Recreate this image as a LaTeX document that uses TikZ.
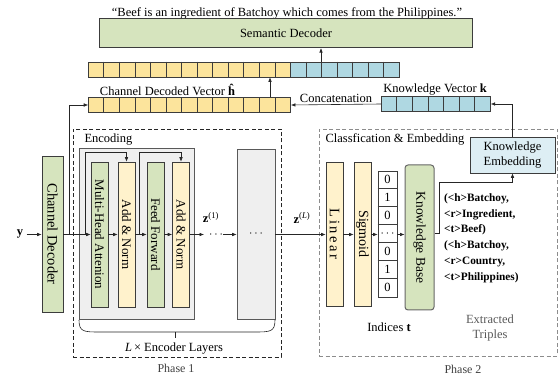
\documentclass[tikz,border=0pt]{standalone}
\usepackage{fontspec}
\setmainfont{Liberation Serif}
\usetikzlibrary{arrows.meta,calc}
\definecolor{greenfill}{HTML}{D6E4BE}
\definecolor{yelcell}{HTML}{FCE49C}
\definecolor{yelbox}{HTML}{FFF2CC}
\definecolor{bluecell}{HTML}{AFD8E2}
\definecolor{bluebox}{HTML}{DDEEF4}
\definecolor{grayfill}{HTML}{EFEFEF}
\definecolor{edge}{HTML}{3C3C3C}
\begin{document}
\begin{tikzpicture}[x=1pt,y=-1pt,
  font=\fontsize{12.5}{15}\selectfont,
  arr/.style={-{Latex[length=4.5pt,width=3.6pt]}, line width=0.6pt, draw=black!85},
  ln/.style={line width=0.6pt, draw=black!85},
  blk/.style={draw=edge, line width=0.6pt, inner sep=0pt},
  vbox/.style={blk, minimum width=17pt, minimum height=145pt},
  vec/.style={blk, minimum height=15pt},
  vtext/.style={rotate=-90, inner sep=0pt},
  cellln/.style={draw=edge, line width=0.6pt},
  phase/.style={line width=0.7pt, dash pattern=on 4pt off 2.5pt},
  smalllbl/.style={font=\fontsize{12}{14}\selectfont, text=black!75}]
\useasboundingbox (0,0) rectangle (558,379);

% ---------- decoder output ----------
\node (quote) at (287,13) {“Beef is an ingredient of Batchoy which comes from the Philippines.”};
\node[blk, fill=greenfill, minimum width=373pt, minimum height=29.5pt] (sd) at (286,33) {Semantic Decoder};

% concatenated vector
\node[vec, fill=yelcell, minimum width=202.15pt] (cvecA) at (189.6,69.5) {};
\node[vec, fill=bluecell, minimum width=108.85pt] (cvecB) at (345.1,69.5) {};
\foreach \i in {1,...,12}
  \draw[cellln] ($(cvecA.north west)+(\i*15.55,0)$) -- ($(cvecA.south west)+(\i*15.55,0)$);
\foreach \i in {1,...,6}
  \draw[cellln] ($(cvecB.north west)+(\i*15.55,0)$) -- ($(cvecB.south west)+(\i*15.55,0)$);

% channel decoded vector and knowledge vector
\node[vec, fill=yelcell, minimum width=202.15pt] (hvec) at (189.6,105) {};
\foreach \i in {1,...,12}
  \draw[cellln] ($(hvec.north west)+(\i*15.55,0)$) -- ($(hvec.south west)+(\i*15.55,0)$);
\node[vec, fill=bluecell, minimum width=108.85pt] (kvec) at (435.9,104) {};
\foreach \i in {1,...,6}
  \draw[cellln] ($(kvec.north west)+(\i*15.55,0)$) -- ($(kvec.south west)+(\i*15.55,0)$);

\node (hlbl) at (167.5,90) {Channel Decoded Vector \textbf{ĥ}};
\node (klbl) at (435,89.5) {Knowledge Vector \textbf{k}};

\coordinate (up1) at (270,0);
\coordinate (up2) at (321,0);
\draw[arr] (hvec.north -| up1) -- (cvecA.south -| up1);
\draw[arr] (cvecB.north -| up2) -- (sd.south -| up2);
\draw[arr] (kvec.west) -- (hvec.east) node[midway, above, inner sep=1.5pt] (concat) {Concatenation};

% ---------- phase frames ----------
\node[phase, draw=black!85, minimum width=208pt, minimum height=228pt, inner sep=0pt] (ph1) at (177,243) {};
\node[phase, draw=black!45, minimum width=238pt, minimum height=227pt, inner sep=0pt] (ph2) at (438,242.5) {};
\node[smalllbl] (ph1l) at (176,368) {Phase 1};
\node[smalllbl] (ph2l) at (463,369) {Phase 2};

% ---------- phase 1 ----------
\node (ylab) at (20,234) {\textbf{y}};
\node[blk, fill=greenfill, minimum width=21pt, minimum height=156pt] (cd) at (52.5,234) {};
\node[vtext, font=\fontsize{14.5}{14}\selectfont] (cdT) at (cd) {Channel Decoder};

\node[blk, draw=black!65, fill=grayfill, minimum width=115pt, minimum height=171pt] (enc) at (136.5,233.5) {};
\node[anchor=west] (encl) at (81,140) {Encoding};
\node[vbox, fill=greenfill] (mha) at (99.5,234.5) {};
\node[vbox, fill=yelbox] (an1) at (126.5,234.5) {};
\node[vbox, fill=greenfill] (ff) at (155.5,234.5) {};
\node[vbox, fill=yelbox] (an2) at (181,234.5) {};
\node[vtext, font=\fontsize{13}{13}\selectfont] (mhaT) at (mha) {Multi-Head Attenion};
\node[vtext, font=\fontsize{13}{13}\selectfont] (an1T) at (an1) {Add \& Norm};
\node[vtext, font=\fontsize{13}{13}\selectfont] (ffT) at (ff) {Feed Forward};
\node[vtext, font=\fontsize{13}{13}\selectfont] (an2T) at (an2) {Add \& Norm};

\node[blk, draw=black!65, fill=grayfill, minimum width=38pt, minimum height=170pt] (box2) at (256,234) {};
\node (box2T) at (box2) {$\cdots$};

\coordinate (fl) at (0,234.5);
\draw[arr] (ylab.east |- fl) -- (cd.west |- fl);
\draw[arr] (cd.east |- fl) -- (mha.west |- fl);
\coordinate (br) at (69,234.5);
\draw[arr] (br) |- (hvec.west);
\draw[arr] (mha.east |- fl) -- (an1.west |- fl);
\draw[arr] (an1.east |- fl) -- (ff.west |- fl);
\draw[arr] (ff.east |- fl) -- (an2.west |- fl);
\coordinate (s1) at (85,234.5);
\coordinate (s2) at (139,234.5);
\draw[arr] (s1) -- ++(0,-82.5) -| (an1.north);
\draw[arr] (s2) -- ++(0,-82.5) -| (an2.north);

\coordinate (d1) at (204,234.5);
\draw[arr] (an2.east |- fl) -- (d1);
\node[inner sep=0pt] (dts) at (216,235) {$\cdots$};
\draw[arr] (dts.east |- fl) -- (box2.west |- fl);
\node[inner sep=1pt] (z1) at (211,217.5) {\textbf{z}\textsuperscript{(1)}};

% brace under the encoder layers
\coordinate (brL) at (79,320);
\coordinate (brR) at (275,320);
\coordinate (brM) at (175,332);
\draw[ln] (brL) .. controls (79,332) and (84,332) .. (100,332) -- (254,332)
  .. controls (270,332) and (275,332) .. (brR);
\draw[ln] (brM) -- ++(0,6);
\node (layers) at (174,349) {\textit{L}\,× Encoder Layers};

% ---------- phase 2 ----------
\node[anchor=west] (p2l) at (322,139) {Classfication \& Embedding};
\node[blk, fill=bluebox, minimum width=85pt, minimum height=36pt, align=center,
      font=\fontsize{12.5}{14.5}\selectfont] (ke) at (512.5,155) {Knowledge\\Embedding};

\node[blk, fill=yelbox, minimum width=17pt, minimum height=144pt] (lin) at (334.5,234) {};
\node[blk, fill=yelbox, minimum width=17pt, minimum height=144pt] (sig) at (362.5,234) {};
\node[vtext, font=\fontsize{14.5}{14}\selectfont\addfontfeature{LetterSpace=18}] (linT) at (lin) {Linear};
\node[vtext, font=\fontsize{14}{14}\selectfont] (sigT) at (sig) {Sigmoid};

\node[blk, fill=white, minimum width=19pt, minimum height=126pt] (idx) at (387.5,234) {};
\foreach \i in {1,...,6}
  \draw[cellln] ($(idx.north west)+(0,\i*18)$) -- ($(idx.north east)+(0,\i*18)$);
\foreach \v [count=\k from 0] in {0,1,0,$\cdots$,0,1,0}
  \node[inner sep=0pt] (idx\k) at ($(idx.north)+(0,9+\k*18)$) {\v};

\node[blk, draw=black!60, line width=1pt, rounded corners=3pt, fill=greenfill,
      minimum width=29pt, minimum height=145pt] (kb) at (419.5,237.5) {};
\node[vtext, font=\fontsize{13.5}{13}\selectfont] (kbT) at (kb) {Knowledge Base};

\draw[arr] (box2.east |- fl) -- (lin.west |- fl);
\draw[arr] (lin.east |- fl) -- (sig.west |- fl);
\draw[arr] (sig.east |- fl) -- (idx.west |- fl);
\draw[arr] (idx.east |- fl) -- (kb.west |- fl);
\node (zL) at (302,218) {\textbf{z}\textsuperscript{(\textit{L})}};

\coordinate (kbout) at (439,233);
\draw[arr] (kb.east |- kbout) -- (kbout) |- ($(ke.south)+(0,9)$) -- (ke.south);
\draw[arr] (ke.north) |- (kvec.east);

\node[anchor=west, align=left, inner sep=0pt,
      font=\fontsize{11.3}{15.8}\bfseries\selectfont] (trip) at (444,238)
  {(<h>Batchoy,\\<r>Ingredient,\\<t>Beef)\\(<h>Batchoy,\\<r>Country,\\<t>Philippines)};

\node (idxl) at (389,327) {Indices \textbf{t}};
\node[align=center, text=black!65, font=\fontsize{12.5}{15}\selectfont] (extr) at (490,327.5) {Extracted\\Triples};
\end{tikzpicture}
\end{document}
